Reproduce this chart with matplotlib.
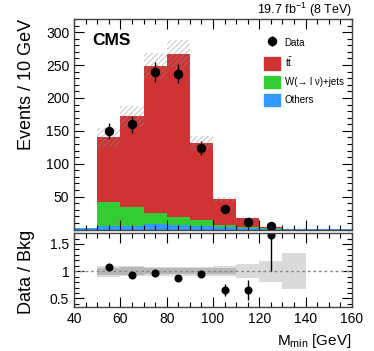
import numpy as np
import matplotlib
matplotlib.use("Agg")
import matplotlib.pyplot as plt
from matplotlib.patches import Patch
from matplotlib.ticker import MultipleLocator

plt.rcParams['font.family'] = ['Liberation Sans', 'DejaVu Sans']
plt.rcParams['mathtext.fontset'] = 'custom'
plt.rcParams['mathtext.rm'] = 'Liberation Sans'
plt.rcParams['mathtext.it'] = 'Liberation Sans:italic'
plt.rcParams['hatch.linewidth'] = 0.6

# bins of M_min (GeV)
edges = np.arange(40, 161, 10)
centers = edges[:-1] + 5

# stacked backgrounds (events / 10 GeV)
others = [2, 6, 5.5, 8, 7, 6, 4, 2.5, 1.5, 1.5, 1.5, 1.5]
wjets = [0, 36, 29.5, 17, 11.5, 9, 3, 1.5, 0.5, 0, 0, 0]
ttbar = [0, 98, 137, 223, 248.5, 116, 39, 13.5, 2, 0, 0, 0]

# relative total uncertainty (light band) and inner band
unc_total = [0, 0.10, 0.09, 0.08, 0.08, 0.08, 0.09, 0.13, 0.19, 0.33, 0, 0]
unc_inner = [0, 0.065, 0.07, 0.06, 0.06, 0.06, 0.05, 0, 0, 0, 0, 0]

# data
data_x = [55, 65, 75, 85, 95, 105, 115, 125]
data_y = [150, 160, 239, 237, 124, 31, 11, 6]
data_err = [12, 13, 15, 15, 11, 6, 3, 2.5]

# data / background
ratio = [1.08, 0.93, 0.96, 0.88, 0.94, 0.66, 0.66, 1.67]
ratio_lo = [0.06, 0.05, 0.04, 0.03, 0.05, 0.11, 0.185, 0.67]
ratio_hi = [0.06, 0.05, 0.04, 0.03, 0.05, 0.11, 0.185, 0.67]

c_tt = '#cf3333'
c_w = '#33cc33'
c_oth = '#3399ff'

fig = plt.figure(figsize=(3.74, 3.51), dpi=100)
ax = fig.add_axes([0.198, 0.346, 0.743, 0.600])
rax = fig.add_axes([0.198, 0.125, 0.743, 0.211])

others = np.array(others)
wjets = np.array(wjets)
ttbar = np.array(ttbar)
total = others + wjets + ttbar

ax.bar(centers, others, width=10, color=c_oth, lw=0)
ax.bar(centers, wjets, width=10, bottom=others, color=c_w, lw=0)
ax.bar(centers, ttbar, width=10, bottom=others + wjets, color=c_tt, lw=0)

# hatched uncertainty on the stack
unc_abs = total * np.array(unc_total)
ax.bar(centers, 2 * unc_abs, width=10, bottom=total - unc_abs, fill=False,
       hatch='//////', edgecolor=(0.55, 0.55, 0.55, 0.6), lw=0)

eb = ax.errorbar(data_x, data_y, yerr=data_err, fmt='o', color='black',
                 ms=5.8, elinewidth=1.0, capsize=0)

ax.set_xlim(40, 160)
ax.set_ylim(0, 320)
ax.set_ylabel('Events / 10 GeV', fontsize=13, loc='top')
ax.yaxis.set_label_coords(-0.14, 1.0)
ax.tick_params(labelbottom=False)
ax.text(0.066, 0.935, 'CMS', transform=ax.transAxes, fontsize=12.5,
        fontweight='bold', va='top')
ax.set_title(r'19.7 fb$^{-1}$ (8 TeV)', loc='right', fontsize=9, pad=3)

handles = [eb, Patch(color=c_tt), Patch(color=c_w), Patch(color=c_oth)]
labels = ['Data', r't$\bar{\rm t}$', 'W(→ l ν)+jets', 'Others']
ax.legend(handles, labels, loc='upper left', bbox_to_anchor=(0.67, 0.935),
          frameon=False, fontsize=7, handlelength=1.65, handleheight=1.55,
          labelspacing=0.62, handletextpad=0.45, borderaxespad=0)

# ratio panel
rel_t = np.array(unc_total)
rel_i = np.array(unc_inner)
rax.bar(centers, 2 * rel_t, width=10, bottom=1 - rel_t, color='#dadada', lw=0)
rax.bar(centers, 2 * rel_i, width=10, bottom=1 - rel_i, color='#b8b8b8', lw=0)
rax.axhline(1, color='#888888', ls=(0, (2, 2)), lw=1)
rax.errorbar(data_x, ratio, yerr=[ratio_lo, ratio_hi], fmt='o', color='black',
             ms=4.8, elinewidth=1.0, capsize=0, clip_on=True)
rax.set_xlim(40, 160)
rax.set_ylim(0.34, 1.7)
rax.set_ylabel('Data / Bkg', fontsize=13)
rax.yaxis.set_label_coords(-0.14, 0.48)
rax.set_xlabel(r'M$_{\rm min}$ [GeV]', fontsize=11, loc='right')
rax.yaxis.set_major_locator(MultipleLocator(0.5))
rax.yaxis.set_minor_locator(MultipleLocator(0.1))
rax.set_yticks([0.5, 1, 1.5])
rax.set_yticklabels(['0.5', '1', '1.5'])

for a in (ax, rax):
    a.xaxis.set_major_locator(MultipleLocator(20))
    a.xaxis.set_minor_locator(MultipleLocator(5))
    a.tick_params(which='both', direction='in', top=True, right=True,
                  labelsize=10, width=0.8)
    a.tick_params(which='major', length=7)
    a.tick_params(which='minor', length=3.5)
    for s in a.spines.values():
        s.set_linewidth(1.0)
        s.set_color('#444444')
ax.yaxis.set_major_locator(MultipleLocator(50))
ax.yaxis.set_minor_locator(MultipleLocator(10))
ax.set_yticks([50, 100, 150, 200, 250, 300])

fig.savefig('out.png', dpi=100)
